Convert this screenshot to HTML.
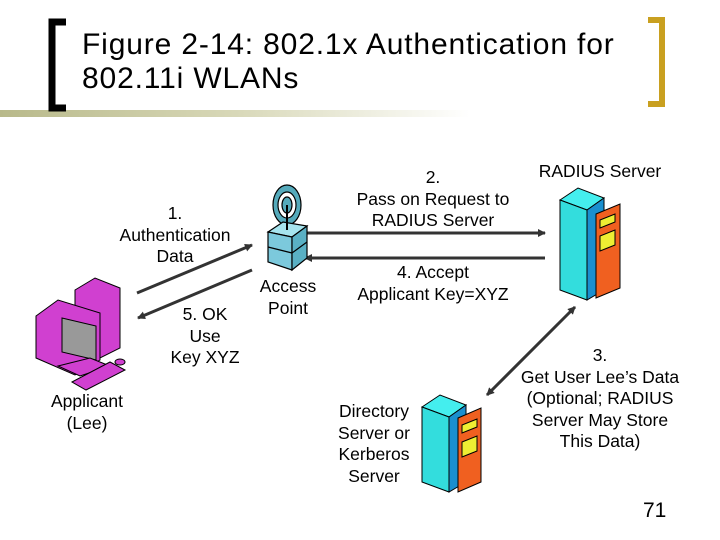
<!DOCTYPE html>
<html><head><style>
body{margin:0;width:720px;height:540px;background:#fff;overflow:hidden;position:relative;font-family:"Liberation Sans",sans-serif}
.t{position:absolute;text-align:center;font-size:17.5px;line-height:21.5px;color:#000}
</style></head><body>
<div style="position:absolute;left:0;top:110px;width:470px;height:7px;background:linear-gradient(to right,#b8b98a,#d8d8b8 50%,#fff)"></div>
<svg width="720" height="540" style="position:absolute;left:0;top:0">
<path d="M66 22 H52 V108 H66" fill="none" stroke="#000" stroke-width="7"/>
<path d="M648 20 H662 V104 H648" fill="none" stroke="#c9a020" stroke-width="6"/>
<defs><marker id="a" markerWidth="8" markerHeight="8" refX="7" refY="4" orient="auto" markerUnits="userSpaceOnUse"><path d="M0,0 L8,4 L0,8z" fill="#333"/></marker>
<marker id="b" markerWidth="8" markerHeight="8" refX="1" refY="4" orient="auto" markerUnits="userSpaceOnUse"><path d="M8,0 L0,4 L8,8z" fill="#333"/></marker></defs>
<g stroke="#333" stroke-width="3" fill="none">
<line x1="137" y1="293" x2="252" y2="245" marker-end="url(#a)"/>
<line x1="252" y1="270" x2="138" y2="318" marker-end="url(#a)"/>
<line x1="305" y1="233" x2="545" y2="233" marker-end="url(#a)"/>
<line x1="545" y1="258" x2="305" y2="258" marker-end="url(#a)"/>
<line x1="575" y1="307" x2="487" y2="395" marker-end="url(#a)" marker-start="url(#b)"/>
</g>
<g stroke="#000" stroke-width="1.2">
<ellipse cx="287" cy="205" rx="14" ry="20" fill="#5ab" />
<ellipse cx="287" cy="205" rx="9" ry="13" fill="#fff"/>
<ellipse cx="287" cy="205" rx="5" ry="8" fill="#5ab"/>
<path d="M268 232 L283 222 L307 226 L292 237Z" fill="#a6e4ee"/>
<path d="M268 232 L292 237 L292 270 L268 262Z" fill="#7cc9dc"/>
<path d="M292 237 L307 226 L307 258 L292 270Z" fill="#5ab0c4"/>
<line x1="268" y1="247" x2="292" y2="253"/><line x1="292" y1="253" x2="307" y2="242"/>
<line x1="287" y1="205" x2="287" y2="230" stroke-width="2"/>
</g>
<g stroke="#000" stroke-width="1" fill="#d040d0">
<path d="M75 290 L95 278 L120 288 L120 348 L100 358 L75 348Z"/>
<path d="M36 316 L58 300 L100 313 L100 360 L75 375 L36 358Z"/>
<path d="M62 318 L96 326 L96 360 L62 352Z" fill="#999"/>
<path d="M58 366 L90 358 L110 366 L80 376Z"/>
<path d="M72 382 L110 362 L125 370 L86 390Z"/>
<ellipse cx="120" cy="362" rx="5" ry="3"/>
</g>
<g stroke="#000" stroke-width="1">
<path d="M560 200 L578 188 L604 198 L587 210Z" fill="#4ee"/>
<path d="M560 200 L587 210 L587 300 L560 290Z" fill="#3dd"/>
<path d="M587 210 L604 198 L604 290 L587 300Z" fill="#1a8fcf"/>
<path d="M596 214 L620 204 L620 288 L596 298Z" fill="#f06020"/>
<path d="M600 220 L615 214 L615 222 L600 228Z" fill="#ee3"/>
<path d="M600 236 L615 230 L615 245 L600 251Z" fill="#ee3"/>
<path d="M422 407 L440 395 L466 405 L449 417Z" fill="#4ee"/>
<path d="M422 407 L449 417 L449 492 L422 482Z" fill="#3dd"/>
<path d="M449 417 L466 405 L466 482 L449 492Z" fill="#1a8fcf"/>
<path d="M458 418 L481 408 L481 482 L458 492Z" fill="#f06020"/>
<path d="M462 425 L477 419 L477 427 L462 433Z" fill="#ee3"/>
<path d="M462 442 L477 436 L477 451 L462 457Z" fill="#ee3"/>
</g>
</svg>
<div style="position:absolute;left:82px;top:28px;font-size:30px;line-height:34px;letter-spacing:0.85px;white-space:nowrap">Figure 2-14: 802.1x Authentication for<br>802.11i WLANs</div>
<div class="t" style="left:100px;top:203px;width:150px">1.<br>Authentication<br>Data</div>
<div class="t" style="left:155px;top:304px;width:100px">5. OK<br>Use<br>Key XYZ</div>
<div class="t" style="left:37px;top:391px;width:100px">Applicant<br>(Lee)</div>
<div class="t" style="left:238px;top:276px;width:100px">Access<br>Point</div>
<div class="t" style="left:333px;top:167px;width:200px">2.<br>Pass on Request to<br>RADIUS Server</div>
<div class="t" style="left:333px;top:262px;width:200px">4. Accept<br>Applicant Key=XYZ</div>
<div class="t" style="left:520px;top:161px;width:160px">RADIUS Server</div>
<div class="t" style="left:505px;top:345px;width:190px">3.<br>Get User Lee’s Data<br>(Optional; RADIUS<br>Server May Store<br>This Data)</div>
<div class="t" style="left:324px;top:401px;width:100px">Directory<br>Server or<br>Kerberos<br>Server</div>
<div style="position:absolute;left:643px;top:499px;font-size:21px">71</div>
</body></html>
